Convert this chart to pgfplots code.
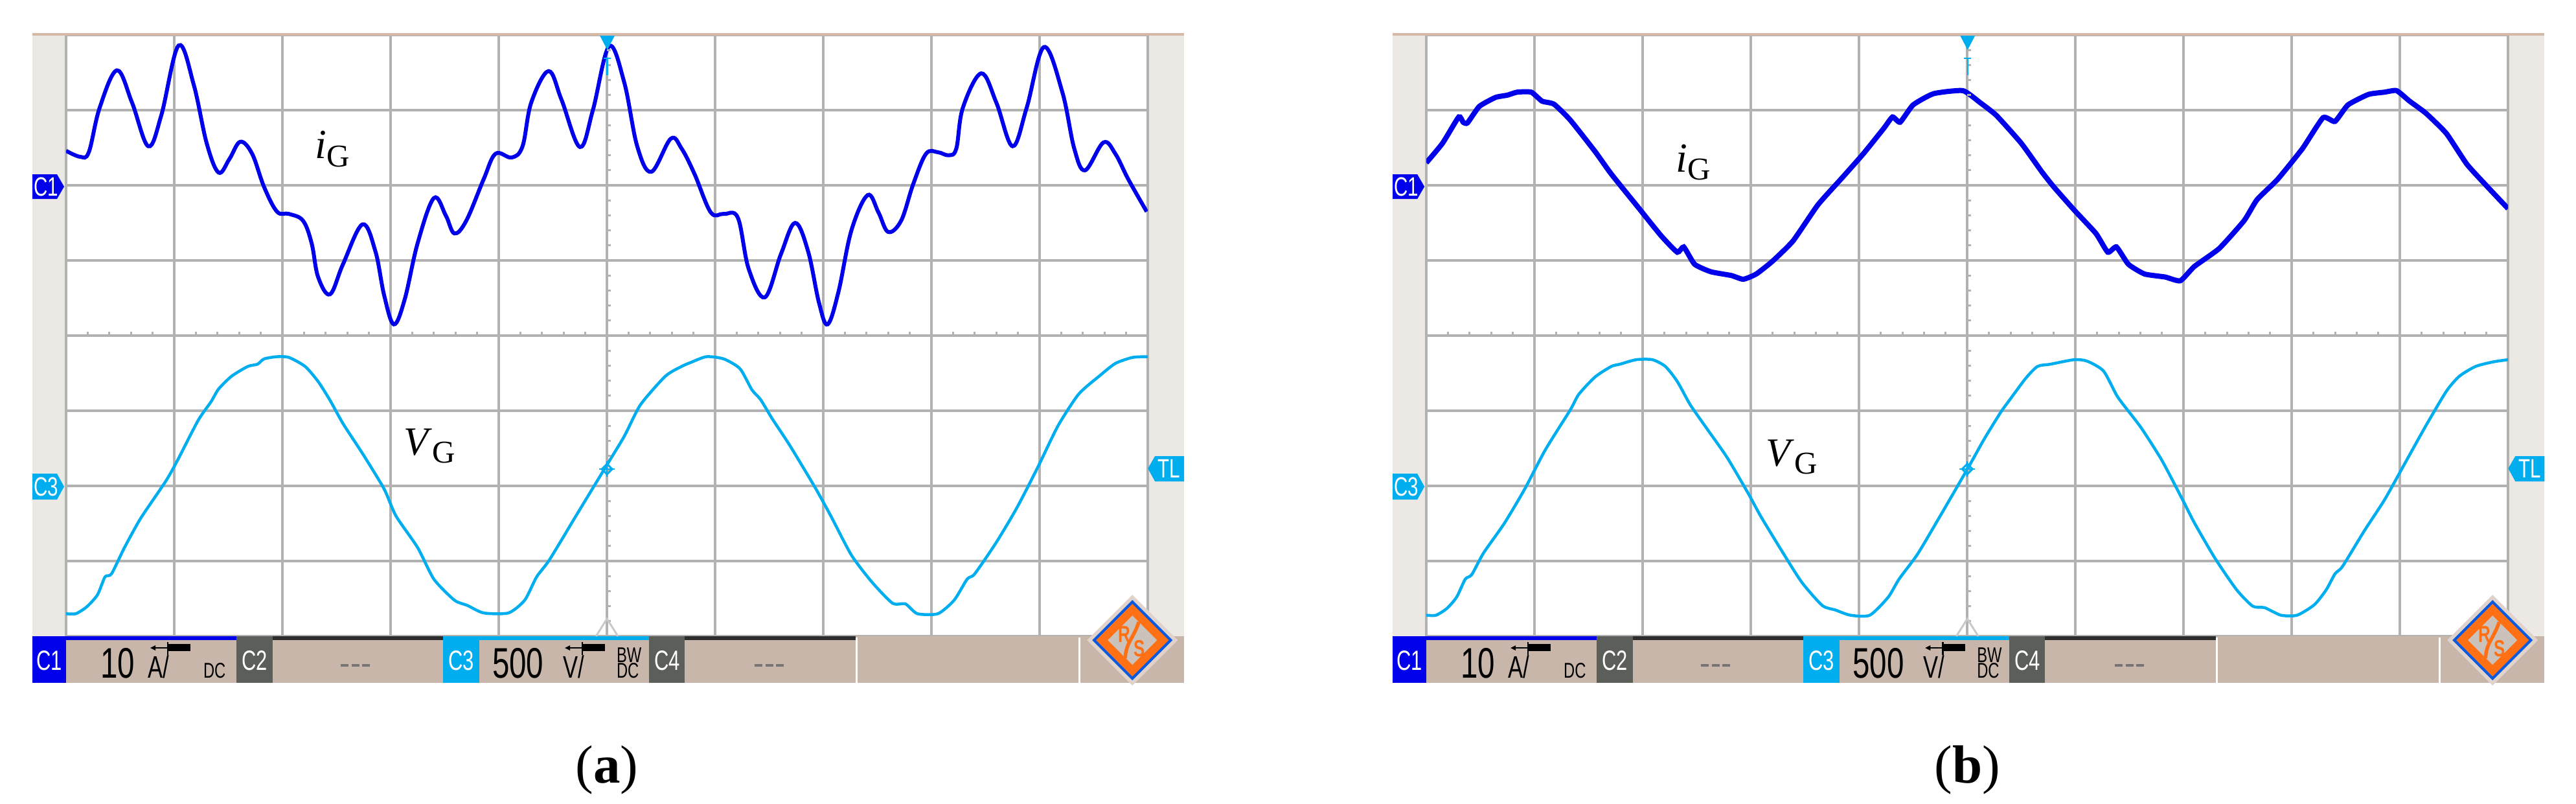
\documentclass[border=0pt]{standalone}
\usepackage{pgfplots}
\pgfplotsset{compat=1.18}
\usepackage{pgfplotstable}
\usepackage{fontspec}
\setmainfont{Liberation Serif}
\newfontfamily\osc[FakeStretch=0.72]{Liberation Sans}

\definecolor{tracea}{RGB}{0,0,235}
\definecolor{traceb}{RGB}{0,174,239}
\definecolor{gridc}{RGB}{178,178,178}
\definecolor{strip}{RGB}{236,232,228}
\definecolor{bar}{RGB}{201,182,170}
\definecolor{topline}{RGB}{214,184,166}
\definecolor{chgrey}{RGB}{92,94,90}
\definecolor{dark}{RGB}{45,45,45}
\definecolor{rsorange}{RGB}{255,112,20}
\definecolor{rsblue}{RGB}{10,90,225}
\definecolor{rsgrey}{RGB}{204,194,188}

\pgfplotsset{osc/.style={anchor=south west, scale only axis,
  width=167pt, height=92.8pt,
  xmin=0, xmax=10, ymin=0, ymax=8,
  xtick={0,...,10}, ytick={0,...,8},
  xticklabels={}, yticklabels={}, major tick length=0pt,
  grid=major, grid style={line width=0.35pt, gridc},
  axis line style={draw=none}}}

% probe arrow icon, #1 = left x (px)
\newcommand{\probe}[1]{%
  \draw[black, line width=0.25pt] (#1+6,1000) -- (#1+28,1000);
  \fill[black] (#1,1000) -- (#1+8,996) -- (#1+8,1004) -- cycle;
  \fill[black] (#1+28,994) rectangle (#1+62,1005);
  \draw[black, line width=0.25pt] (#1+27,991) -- (#1+27,1011);
}

% background parts of one scope screen, #1 = x offset (px)
\newcommand{\oscback}[1]{%
\begin{scope}[shift={(#1,0)}]
  \fill[strip] (50,53) rectangle (102,982);
  \fill[strip] (1772,53) rectangle (1828,982);
\end{scope}}

% foreground parts, #1 = x offset (px)
\newcommand{\oscfront}[1]{%
\begin{scope}[shift={(#1,0)}]
  % ticks on the centre lines
  \foreach \k in {1,...,49} \draw[gridc, line width=0.3pt] ({102+\k*33.4},518) -- ++(0,-6);
  \foreach \k in {1,...,39} \draw[gridc, line width=0.3pt] (937,{54+\k*23.2}) -- ++(6,0);
  % top line
  \draw[topline, line width=0.45pt] (50,53) -- (1828,53);
  % status bar
  \fill[bar] (50,982) rectangle (1828,1054);
  \fill[tracea] (50,982) rectangle (102,1054);
  \fill[tracea] (102,982) rectangle (365,988);
  \fill[chgrey] (365,982) rectangle (421,1054);
  \fill[dark] (421,982) rectangle (684,988);
  \fill[traceb] (684,982) rectangle (740,1054);
  \fill[traceb] (740,982) rectangle (1002,988);
  \fill[chgrey] (1002,982) rectangle (1057,1054);
  \fill[dark] (1057,982) rectangle (1321,988);
  \draw[white, line width=0.3pt] (1322,984) -- (1322,1054);
  \draw[white, line width=0.3pt] (1666,984) -- (1666,1054);
  \foreach \xx/\tt in {76/C1,393/C2,712/C3,1030/C4}
    \node[text=white, font=\osc\fontsize{4.3}{5}\selectfont, inner sep=0] at (\xx,1020) {\tt};
  \node[anchor=base west, inner sep=0, font=\osc\fontsize{6.6}{7}\selectfont] at (153,1046) {10};
  \node[anchor=base west, inner sep=0, font=\osc\fontsize{4.8}{5}\selectfont] at (226,1046) {A/};
  \probe{232}
  \node[anchor=base west, inner sep=0, font=\osc\fontsize{3.3}{4}\selectfont] at (312,1046) {DC};
  \draw[chgrey!85, line width=0.45pt, dash pattern=on 1.2pt off 0.45pt] (526,1027) -- (572,1027);
  \node[anchor=base west, inner sep=0, font=\osc\fontsize{6.6}{7}\selectfont] at (758,1046) {500};
  \node[anchor=base west, inner sep=0, font=\osc\fontsize{4.8}{5}\selectfont] at (867,1046) {V/};
  \probe{872}
  \node[anchor=base west, inner sep=0, font=\osc\fontsize{3.3}{4}\selectfont] at (950,1022) {BW};
  \node[anchor=base west, inner sep=0, font=\osc\fontsize{3.3}{4}\selectfont] at (950,1046) {DC};
  \draw[chgrey!85, line width=0.45pt, dash pattern=on 1.2pt off 0.45pt] (1165,1027) -- (1211,1027);
  % R&S logo
  \fill[bar!60!white] (1748,918) -- (1818,988) -- (1748,1058) -- (1678,988) -- cycle;
  \fill[rsblue] (1748,926) -- (1810,988) -- (1748,1050) -- (1686,988) -- cycle;
  \fill[rsorange] (1748,932) -- (1804,988) -- (1748,1044) -- (1692,988) -- cycle;
  \fill[rsgrey] (1748,950) -- (1786,988) -- (1748,1026) -- (1710,988) -- cycle;
  \draw[rsorange, line width=0.55pt] (1758,960) .. controls (1750,985) and (1738,992) .. (1737,1016);
  \node[text=rsorange, inner sep=0, font=\osc\fontsize{3.6}{4}\selectfont\bfseries] at (1736,979) {R};
  \node[text=rsorange, inner sep=0, font=\osc\fontsize{3.6}{4}\selectfont\bfseries] at (1759,1001) {S};
  % channel markers
  \fill[tracea] (50,269) -- (88,269) -- (99,288) -- (88,307) -- (50,307) -- cycle;
  \node[text=white, inner sep=0, font=\osc\fontsize{4.1}{5}\selectfont] at (71,288) {C1};
  \fill[traceb] (50,731) -- (88,731) -- (99,751) -- (88,771) -- (50,771) -- cycle;
  \node[text=white, inner sep=0, font=\osc\fontsize{4.1}{5}\selectfont] at (71,751) {C3};
  \fill[traceb] (1828,704) -- (1783,704) -- (1772,723) -- (1783,743) -- (1828,743) -- cycle;
  \node[text=white, inner sep=0, font=\osc\fontsize{4.1}{5}\selectfont] at (1805,723) {TL};
  % trigger marks
  \fill[traceb] (926,55) -- (949,55) -- (937.5,77) -- cycle;
  \draw[traceb, line width=0.25pt] (937.5,90) -- (937.5,116) (932,90) -- (943,90);
  \draw[gridc!70, line width=0.3pt] (920,982) -- (937,955) -- (954,982);
  \draw[traceb, line width=0.3pt] (937,716) -- (945,724) -- (937,732) -- (929,724) -- cycle;
  \draw[traceb, line width=0.2pt] (925,724) -- (949,724) (937,712) -- (937,736);
\end{scope}}

\pgfplotstableread{
x y
0 6.46
0.13 6.38
0.21 6.44
0.31 7.03
0.47 7.53
0.61 7.10
0.76 6.52
0.88 6.93
1.04 7.86
1.18 7.34
1.30 6.56
1.41 6.17
1.51 6.35
1.61 6.58
1.72 6.42
1.83 5.98
1.95 5.65
2.06 5.62
2.19 5.53
2.27 5.23
2.33 4.78
2.44 4.55
2.56 4.95
2.74 5.48
2.86 5.12
2.94 4.54
3.03 4.15
3.13 4.48
3.25 5.23
3.40 5.83
3.51 5.60
3.59 5.36
3.70 5.53
3.86 6.08
3.97 6.42
4.12 6.37
4.22 6.52
4.30 7.10
4.46 7.52
4.58 7.14
4.75 6.51
4.87 7.00
5.02 7.85
5.16 7.37
5.28 6.52
5.41 6.18
5.59 6.62
5.69 6.49
5.81 6.15
5.96 5.64
6.08 5.62
6.21 5.57
6.31 4.89
6.46 4.51
6.61 5.09
6.74 5.50
6.86 5.12
6.96 4.44
7.04 4.15
7.14 4.58
7.26 5.40
7.41 5.87
7.51 5.64
7.60 5.38
7.72 5.53
7.83 6.01
7.95 6.42
8.06 6.44
8.16 6.40
8.23 6.49
8.29 7.03
8.46 7.49
8.60 7.10
8.75 6.52
8.88 7.03
9.04 7.84
9.21 7.24
9.32 6.49
9.42 6.20
9.59 6.57
9.70 6.42
9.82 6.08
9.99 5.65
}\iga

\pgfplotstableread{
x y
0 0.30
0.09 0.30
0.19 0.39
0.29 0.55
0.36 0.79
0.42 0.83
0.54 1.18
0.69 1.57
0.92 2.06
1.03 2.34
1.22 2.87
1.34 3.12
1.41 3.29
1.53 3.46
1.68 3.59
1.77 3.62
1.83 3.69
1.95 3.72
2.06 3.71
2.21 3.59
2.33 3.39
2.44 3.14
2.56 2.83
2.75 2.41
2.94 1.96
3.05 1.60
3.25 1.18
3.40 0.76
3.59 0.48
3.71 0.41
3.86 0.31
4.09 0.31
4.24 0.48
4.35 0.79
4.47 1.02
4.73 1.64
5.00 2.28
5.16 2.66
5.31 3.08
5.54 3.46
5.69 3.59
5.77 3.64
5.92 3.72
6.08 3.69
6.23 3.56
6.34 3.28
6.42 3.15
6.53 2.89
6.69 2.54
6.92 1.99
7.07 1.60
7.26 1.08
7.45 0.72
7.64 0.44
7.76 0.43
7.87 0.30
8.06 0.30
8.21 0.48
8.33 0.76
8.40 0.83
8.60 1.25
8.79 1.71
8.98 2.24
9.17 2.80
9.36 3.22
9.55 3.46
9.70 3.63
9.86 3.71
10.0 3.72
}\vga

\pgfplotstableread{
x y
0 6.30
0.15 6.56
0.30 6.91
0.34 6.84
0.38 6.83
0.49 7.05
0.64 7.17
0.75 7.20
0.84 7.24
0.97 7.24
1.07 7.12
1.18 7.08
1.33 6.87
1.56 6.45
1.71 6.15
1.94 5.74
2.17 5.33
2.32 5.11
2.38 5.18
2.48 4.95
2.63 4.85
2.82 4.80
2.93 4.75
3.05 4.82
3.20 4.99
3.39 5.26
3.62 5.74
3.85 6.11
4.04 6.42
4.23 6.76
4.31 6.91
4.38 6.84
4.50 7.07
4.69 7.22
4.96 7.26
5.12 7.10
5.27 6.93
5.50 6.56
5.69 6.18
5.80 5.98
5.99 5.67
6.19 5.36
6.30 5.11
6.38 5.18
6.49 4.95
6.64 4.82
6.83 4.78
6.97 4.73
7.10 4.92
7.33 5.16
7.56 5.53
7.68 5.81
7.87 6.08
8.10 6.49
8.29 6.90
8.40 6.85
8.52 7.07
8.71 7.21
8.86 7.24
8.97 7.26
9.09 7.12
9.24 6.96
9.43 6.69
9.62 6.28
9.81 5.98
10.0 5.69
}\igb

\pgfplotstableread{
x y
0 0.28
0.09 0.28
0.19 0.37
0.28 0.52
0.36 0.76
0.42 0.82
0.53 1.11
0.72 1.50
0.91 1.96
1.10 2.48
1.33 3.01
1.41 3.22
1.56 3.45
1.71 3.59
1.79 3.62
1.94 3.68
2.09 3.68
2.21 3.59
2.32 3.39
2.44 3.08
2.59 2.77
2.78 2.38
2.98 1.89
3.09 1.60
3.28 1.15
3.47 0.72
3.66 0.41
3.78 0.35
3.92 0.28
4.10 0.28
4.27 0.52
4.37 0.76
4.54 1.09
4.73 1.55
5.00 2.22
5.16 2.63
5.31 2.98
5.38 3.12
5.54 3.43
5.65 3.59
5.77 3.62
5.99 3.68
6.11 3.66
6.26 3.53
6.38 3.21
6.45 3.07
6.61 2.77
6.80 2.34
6.99 1.82
7.10 1.51
7.29 1.04
7.49 0.62
7.64 0.40
7.75 0.38
7.90 0.28
8.05 0.28
8.21 0.42
8.32 0.62
8.40 0.83
8.47 0.93
8.67 1.40
8.86 1.82
9.05 2.31
9.24 2.80
9.43 3.26
9.55 3.46
9.70 3.59
9.86 3.65
10.0 3.68
}\vgb

\begin{document}
\begin{tikzpicture}
\useasboundingbox (0pt,0pt) rectangle (397.7pt,-124pt);
\begin{scope}[x=0.1pt,y=-0.1pt]
  \oscback{0}
  \oscback{2100}
\end{scope}

\begin{axis}[osc, at={(10.2pt,-98.2pt)}]
  \addplot[traceb, line width=0.45pt, smooth, tension=0.4] table {\vga};
  \addplot[tracea, line width=0.6pt, smooth, tension=0.6] table {\iga};
\end{axis}

\begin{axis}[osc, at={(220.2pt,-98.2pt)}]
  \addplot[traceb, line width=0.45pt, smooth, tension=0.4] table {\vgb};
  \addplot[tracea, line width=0.8pt, smooth, tension=0.3] table {\igb};
\end{axis}

\begin{scope}[x=0.1pt,y=-0.1pt]
  \oscfront{0}
  \oscfront{2100}
  \node[font=\fontsize{6.4}{7}\selectfont] at (513,230)
    {\textit{i}\raisebox{-1.2pt}{\fontsize{4.9}{5}\selectfont G}};
  \node[font=\fontsize{6.2}{7}\selectfont] at (663,688)
    {\textit{V}\raisebox{-1.2pt}{\fontsize{4.9}{5}\selectfont G}};
  \node[font=\fontsize{6.4}{7}\selectfont] at (2614,250)
    {\textit{i}\raisebox{-1.2pt}{\fontsize{4.9}{5}\selectfont G}};
  \node[font=\fontsize{6.2}{7}\selectfont] at (2766,705)
    {\textit{V}\raisebox{-1.2pt}{\fontsize{4.9}{5}\selectfont G}};
  \node[font=\fontsize{8.3}{9}\selectfont] at (937,1188) {(\textbf{a})};
  \node[font=\fontsize{8.3}{9}\selectfont] at (3037,1188) {(\textbf{b})};
\end{scope}
\end{tikzpicture}
\end{document}
